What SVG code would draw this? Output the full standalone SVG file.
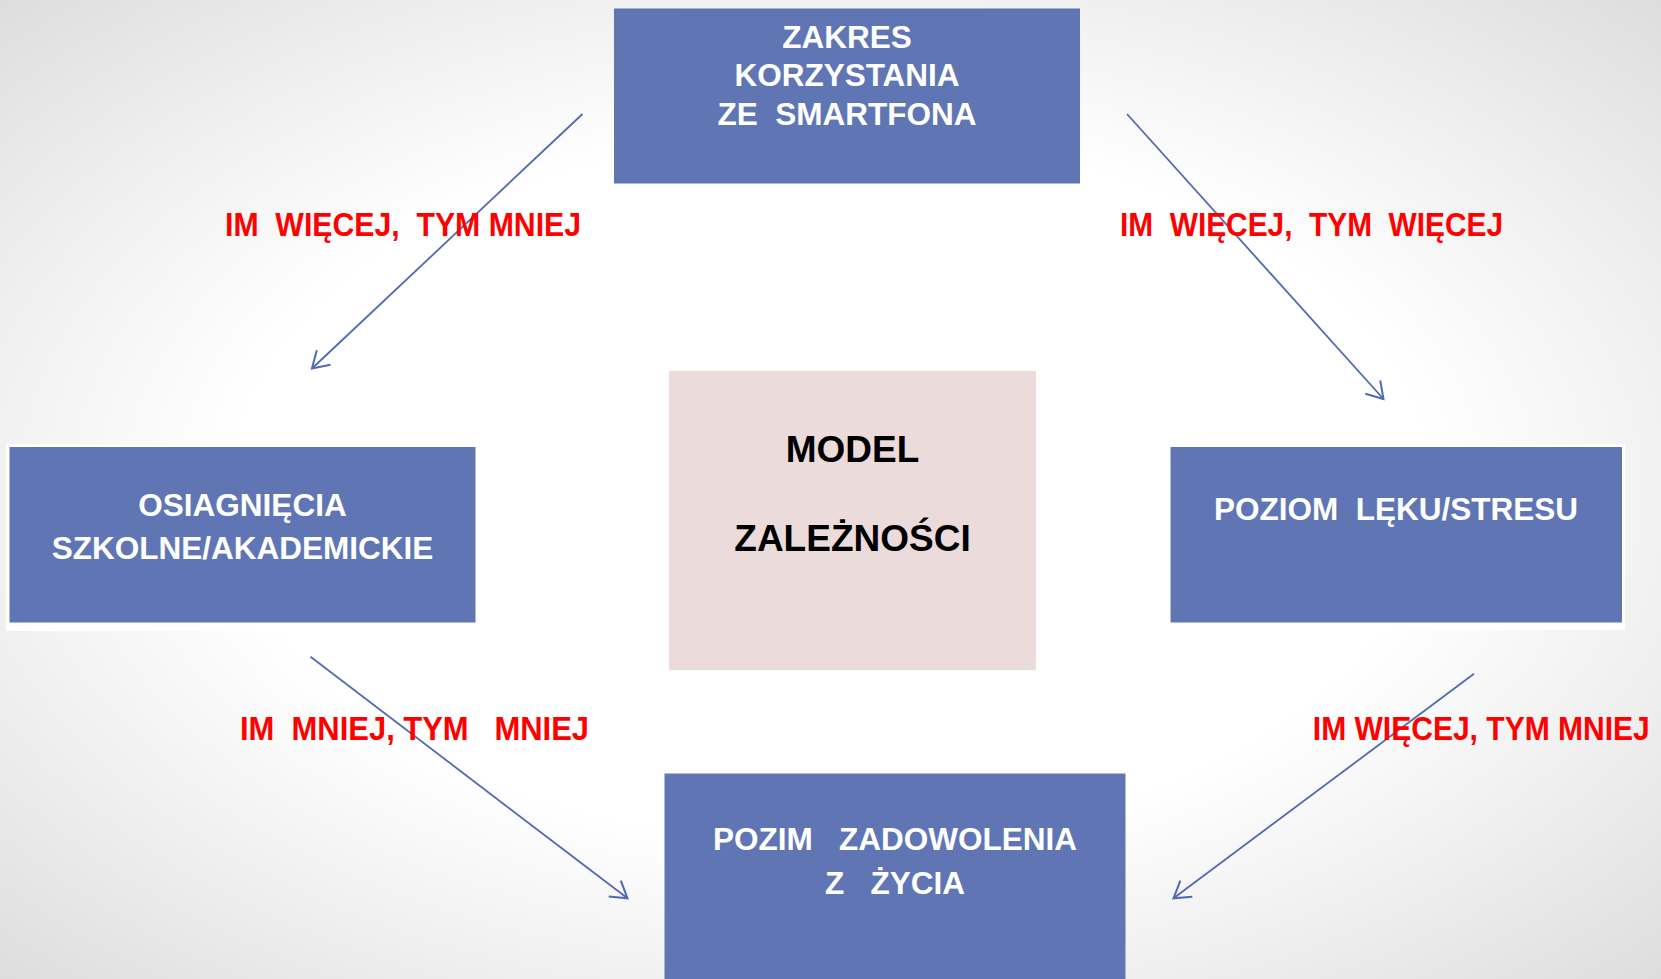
<svg xmlns="http://www.w3.org/2000/svg" width="1661" height="979" viewBox="0 0 1661 979">
<defs>
<radialGradient id="bg" cx="0.5" cy="0.5" r="0.72">
<stop offset="0" stop-color="#ffffff"/>
<stop offset="0.5" stop-color="#ffffff"/>
<stop offset="0.72" stop-color="#f0f0f0"/>
<stop offset="1" stop-color="#dcdcdc"/>
</radialGradient>
<marker id="arr" markerUnits="userSpaceOnUse" markerWidth="24" markerHeight="24" viewBox="-20 -12 24 24" refX="0" refY="0" orient="auto">
<path d="M -16,-10 L 0,0 L -16,10" fill="none" stroke="#5069B2" stroke-width="2" stroke-linejoin="miter"/>
</marker>
<style>
.box{fill:#6076B4}
.halo{fill:#ffffff}
.pink{fill:#EBDBDB}
.wt{font-family:"Liberation Sans",Arial,sans-serif;font-weight:bold;font-size:31.5px;fill:#ffffff;text-anchor:middle}
.bt{font-family:"Liberation Sans",Arial,sans-serif;font-weight:bold;font-size:37px;fill:#000000;text-anchor:middle}
.rt{font-family:"Liberation Sans",Arial,sans-serif;font-weight:bold;font-size:30px;fill:#FF0000}
.ln{stroke:#5069B2;stroke-width:1.8;fill:none;marker-end:url(#arr)}
</style>
</defs>
<rect x="0" y="0" width="1661" height="979" fill="url(#bg)"/>

<g id="node-zakres">
<rect class="box" x="614" y="8.5" width="466" height="175"/>
<text class="wt" x="847" y="47.5">ZAKRES</text>
<text class="wt" x="847" y="86">KORZYSTANIA</text>
<text class="wt" x="847" y="125" xml:space="preserve">ZE  SMARTFONA</text>
</g>

<g id="node-model">
<rect class="pink" x="669" y="371" width="367" height="299"/>
<text class="bt" x="852.5" y="461.5">MODEL</text>
<text class="bt" x="852.5" y="550.5">ZALEŻNOŚCI</text>
</g>

<g id="node-osiagniecia">
<rect class="halo" x="6" y="444" width="473" height="187"/>
<rect class="box" x="9.5" y="447" width="466" height="175.5"/>
<text class="wt" x="242.5" y="516">OSIAGNIĘCIA</text>
<text class="wt" x="242.5" y="559">SZKOLNE/AKADEMICKIE</text>
</g>

<g id="node-poziom-leku">
<rect class="halo" x="1167" y="444" width="458" height="186"/>
<rect class="box" x="1170.5" y="447" width="451.5" height="175.5"/>
<text class="wt" x="1396" y="519.5" xml:space="preserve">POZIOM  LĘKU/STRESU</text>
</g>

<g id="node-zadowolenie">
<rect class="box" x="664.5" y="773.5" width="461" height="210"/>
<text class="wt" x="895" y="850" xml:space="preserve">POZIM   ZADOWOLENIA</text>
<text class="wt" x="895" y="893.5" xml:space="preserve">Z   ŻYCIA</text>
</g>

<g id="connectors">
<line class="ln" x1="582.5" y1="114" x2="312" y2="368.5"/>
<line class="ln" x1="1127" y1="114" x2="1383.5" y2="399"/>
<line class="ln" x1="310.5" y1="656.8" x2="627.5" y2="898.3"/>
<line class="ln" x1="1474" y1="673.8" x2="1173.5" y2="898.3"/>
</g>

<g id="labels">
<text class="rt" transform="translate(225,236) scale(1,1.1)" x="0" y="0" textLength="356" lengthAdjust="spacingAndGlyphs" xml:space="preserve">IM  WIĘCEJ,  TYM MNIEJ</text>
<text class="rt" transform="translate(1120,236) scale(1,1.1)" x="0" y="0" textLength="383" lengthAdjust="spacingAndGlyphs" xml:space="preserve">IM  WIĘCEJ,  TYM  WIĘCEJ</text>
<text class="rt" transform="translate(240,739.5) scale(1,1.1)" x="0" y="0" textLength="349" lengthAdjust="spacingAndGlyphs" xml:space="preserve">IM  MNIEJ, TYM   MNIEJ</text>
<text class="rt" transform="translate(1312.8,739.5) scale(1,1.1)" x="0" y="0" textLength="337" lengthAdjust="spacingAndGlyphs" xml:space="preserve">IM WIĘCEJ, TYM MNIEJ</text>
</g>
</svg>
